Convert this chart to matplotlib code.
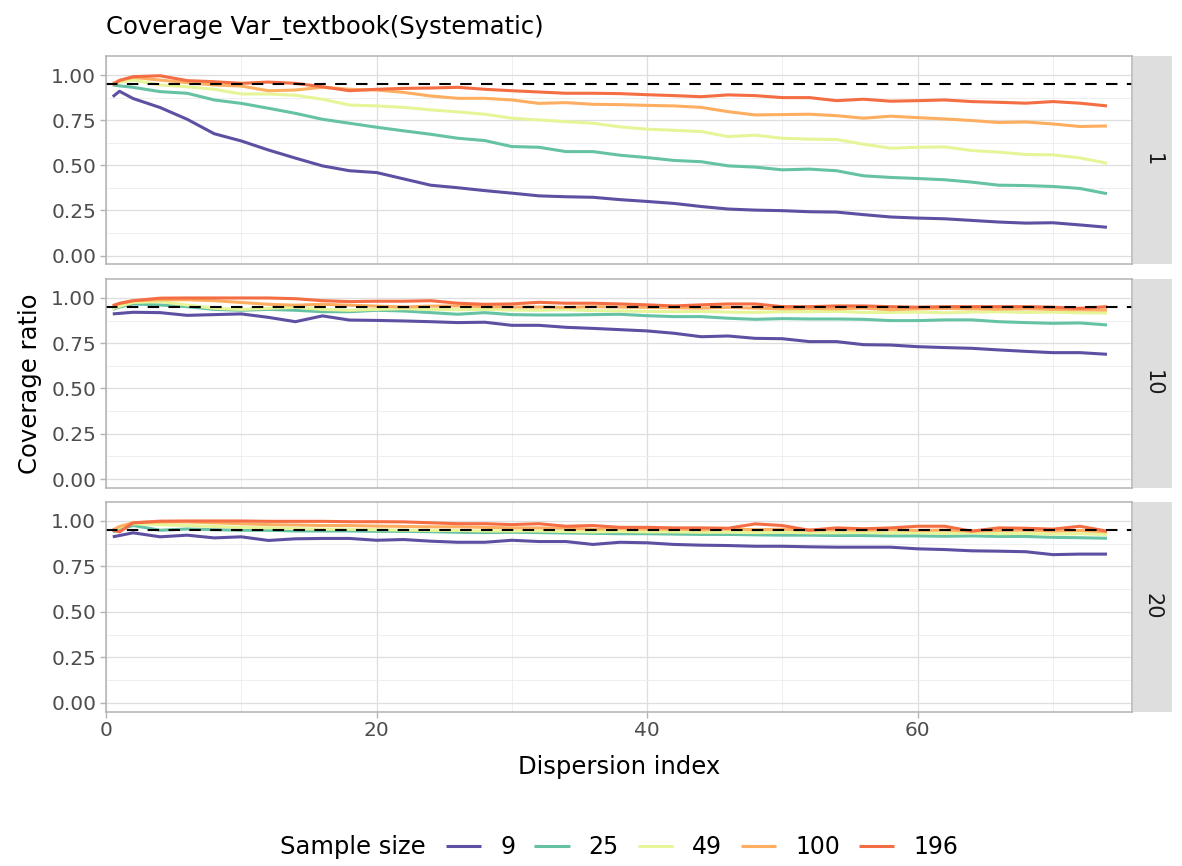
import matplotlib
matplotlib.use("Agg")
import matplotlib.pyplot as plt
from matplotlib.ticker import MultipleLocator

# dispersion index values (x) shared by all lines
dispersion = [0.5, 1] + list(range(2, 75, 2))

sample_sizes = ["9", "25", "49", "100", "196"]
colours = ["#5E4FA2", "#66C2A5", "#E6F598", "#FDAE61", "#F46D43"]
facets = ["1", "10", "20"]

# facet 1
cov_1_n9 = [0.88, 0.91, 0.87, 0.82, 0.755, 0.675, 0.635, 0.585, 0.54, 0.497, 0.47, 0.46, 0.425, 0.39, 0.376, 0.36, 0.346, 0.331, 0.326, 0.323,
            0.31, 0.30, 0.289, 0.272, 0.258, 0.252, 0.249, 0.243, 0.241, 0.227, 0.214, 0.208, 0.204, 0.195, 0.186, 0.18, 0.182, 0.17, 0.157]
cov_1_n25 = [0.945, 0.94, 0.932, 0.908, 0.899, 0.862, 0.843, 0.816, 0.788, 0.755, 0.733, 0.711, 0.691, 0.672, 0.650, 0.637, 0.604, 0.600, 0.576, 0.576,
             0.556, 0.543, 0.527, 0.52, 0.497, 0.490, 0.475, 0.479, 0.470, 0.442, 0.433, 0.427, 0.420, 0.407, 0.39, 0.388, 0.383, 0.372, 0.343]
cov_1_n49 = [0.948, 0.96, 0.972, 0.945, 0.935, 0.921, 0.895, 0.895, 0.888, 0.866, 0.834, 0.829, 0.821, 0.807, 0.796, 0.783, 0.761, 0.751, 0.742, 0.733,
             0.713, 0.700, 0.694, 0.687, 0.659, 0.667, 0.650, 0.645, 0.643, 0.617, 0.595, 0.600, 0.602, 0.582, 0.573, 0.560, 0.558, 0.541, 0.512]
cov_1_n100 = [0.954, 0.97, 0.987, 0.972, 0.958, 0.945, 0.939, 0.913, 0.917, 0.932, 0.921, 0.917, 0.904, 0.884, 0.871, 0.871, 0.862, 0.843, 0.847, 0.838,
              0.836, 0.832, 0.829, 0.821, 0.797, 0.779, 0.781, 0.783, 0.775, 0.761, 0.772, 0.764, 0.757, 0.748, 0.737, 0.740, 0.729, 0.715, 0.718]
cov_1_n196 = [0.945, 0.97, 0.991, 0.996, 0.969, 0.963, 0.954, 0.961, 0.954, 0.935, 0.913, 0.921, 0.926, 0.928, 0.932, 0.921, 0.913, 0.906, 0.899, 0.899,
              0.897, 0.891, 0.886, 0.880, 0.890, 0.886, 0.875, 0.875, 0.858, 0.866, 0.855, 0.858, 0.862, 0.853, 0.849, 0.844, 0.853, 0.844, 0.829]

# facet 10
cov_10_n9 = [0.912, 0.915, 0.921, 0.919, 0.904, 0.908, 0.912, 0.893, 0.869, 0.901, 0.878, 0.876, 0.873, 0.869, 0.864, 0.866, 0.849, 0.849, 0.838, 0.832,
             0.825, 0.818, 0.805, 0.786, 0.790, 0.777, 0.775, 0.759, 0.759, 0.742, 0.740, 0.731, 0.726, 0.722, 0.713, 0.705, 0.698, 0.698, 0.689]
cov_10_n25 = [0.937, 0.95, 0.967, 0.961, 0.952, 0.937, 0.932, 0.937, 0.932, 0.924, 0.924, 0.932, 0.928, 0.919, 0.910, 0.919, 0.908, 0.906, 0.906, 0.908,
              0.910, 0.902, 0.897, 0.897, 0.888, 0.882, 0.886, 0.884, 0.884, 0.882, 0.875, 0.875, 0.879, 0.879, 0.869, 0.864, 0.860, 0.862, 0.851]
cov_10_n49 = [0.94, 0.955, 0.975, 0.98, 0.961, 0.943, 0.937, 0.943, 0.948, 0.937, 0.932, 0.937, 0.941, 0.937, 0.935, 0.937, 0.933, 0.932, 0.935, 0.93,
              0.928, 0.926, 0.924, 0.926, 0.922, 0.92, 0.924, 0.924, 0.926, 0.92, 0.92, 0.922, 0.918, 0.922, 0.924, 0.92, 0.922, 0.918, 0.917]
cov_10_n100 = [0.955, 0.97, 0.985, 0.99, 0.99, 0.985, 0.975, 0.965, 0.96, 0.965, 0.96, 0.955, 0.95, 0.955, 0.956, 0.952, 0.95, 0.95, 0.948, 0.952,
               0.95, 0.948, 0.946, 0.944, 0.948, 0.944, 0.94, 0.942, 0.94, 0.944, 0.935, 0.94, 0.942, 0.94, 0.938, 0.94, 0.937, 0.935, 0.933]
cov_10_n196 = [0.958, 0.97, 0.985, 0.999, 1.0, 1.0, 1.0, 1.0, 0.996, 0.985, 0.98, 0.982, 0.982, 0.985, 0.971, 0.965, 0.967, 0.976, 0.971, 0.971,
               0.967, 0.962, 0.956, 0.962, 0.967, 0.967, 0.952, 0.952, 0.956, 0.956, 0.952, 0.949, 0.952, 0.952, 0.952, 0.952, 0.949, 0.943, 0.952]

# facet 20
cov_20_n9 = [0.913, 0.92, 0.935, 0.913, 0.922, 0.907, 0.913, 0.893, 0.902, 0.904, 0.904, 0.894, 0.898, 0.889, 0.883, 0.883, 0.894, 0.887, 0.887, 0.871,
             0.883, 0.880, 0.871, 0.867, 0.865, 0.861, 0.861, 0.858, 0.856, 0.856, 0.856, 0.847, 0.843, 0.836, 0.834, 0.831, 0.815, 0.818, 0.818]
cov_20_n25 = [0.94, 0.955, 0.975, 0.949, 0.956, 0.952, 0.949, 0.949, 0.945, 0.945, 0.945, 0.943, 0.943, 0.941, 0.938, 0.936, 0.938, 0.936, 0.934, 0.932,
              0.930, 0.930, 0.928, 0.926, 0.926, 0.924, 0.922, 0.922, 0.920, 0.920, 0.918, 0.918, 0.916, 0.918, 0.915, 0.915, 0.910, 0.908, 0.905]
cov_20_n49 = [0.945, 0.965, 0.985, 0.98, 0.975, 0.97, 0.965, 0.962, 0.958, 0.955, 0.955, 0.952, 0.95, 0.948, 0.948, 0.945, 0.945, 0.945, 0.942, 0.94,
              0.942, 0.94, 0.94, 0.938, 0.938, 0.936, 0.938, 0.935, 0.935, 0.936, 0.934, 0.935, 0.932, 0.935, 0.93, 0.932, 0.928, 0.93, 0.926]
cov_20_n100 = [0.95, 0.97, 0.99, 0.995, 0.995, 0.99, 0.985, 0.98, 0.978, 0.975, 0.975, 0.972, 0.97, 0.968, 0.968, 0.965, 0.962, 0.962, 0.96, 0.955,
               0.958, 0.955, 0.955, 0.952, 0.955, 0.952, 0.955, 0.95, 0.952, 0.95, 0.952, 0.948, 0.95, 0.945, 0.948, 0.95, 0.945, 0.948, 0.94]
cov_20_n196 = [0.95, 0.94, 0.99, 0.999, 1.0, 1.0, 1.0, 0.998, 0.998, 0.998, 0.996, 0.996, 0.995, 0.99, 0.985, 0.985, 0.98, 0.985, 0.971, 0.975,
               0.965, 0.965, 0.962, 0.962, 0.96, 0.984, 0.975, 0.949, 0.962, 0.957, 0.962, 0.971, 0.971, 0.944, 0.962, 0.96, 0.955, 0.971, 0.944]

panel_data = [
    [cov_1_n9, cov_1_n25, cov_1_n49, cov_1_n100, cov_1_n196],
    [cov_10_n9, cov_10_n25, cov_10_n49, cov_10_n100, cov_10_n196],
    [cov_20_n9, cov_20_n25, cov_20_n49, cov_20_n100, cov_20_n196],
]
nominal = 0.95

W, H = 1182, 866
fig = plt.figure(figsize=(W / 100, H / 100), dpi=100)

# panel boxes in pixels: (top, bottom)
panel_rows = [(55.7, 264.3), (278.6, 487.7), (501.5, 711.7)]
left_px, right_px = 106, 1132
strip_l, strip_r = 1133, 1172

grey_txt = "#4D4D4D"
border = "#B3B3B3"

axes = []
for i, (top, bot) in enumerate(panel_rows):
    ax = fig.add_axes([left_px / W, 1 - bot / H, (right_px - left_px) / W, (bot - top) / H])
    for ys, col, lab in zip(panel_data[i], colours, sample_sizes):
        ax.plot(dispersion, ys, color=col, lw=2.2, label=lab, solid_capstyle="butt")
    ax.axhline(nominal, color="black", lw=1.5, ls=(0, (5.5, 4.5)))
    ax.set_xlim(0, 75.85)
    ax.set_ylim(-0.048, 1.107)
    ax.yaxis.set_major_locator(MultipleLocator(0.25))
    ax.yaxis.set_minor_locator(MultipleLocator(0.125))
    ax.xaxis.set_major_locator(MultipleLocator(20))
    ax.xaxis.set_minor_locator(MultipleLocator(10))
    ax.grid(which="major", color="#DEDEDE", lw=0.9)
    ax.grid(which="minor", color="#EDEDED", lw=0.6)
    ax.set_axisbelow(True)
    for s in ax.spines.values():
        s.set_color(border)
        s.set_linewidth(1.1)
    ax.tick_params(which="major", color=border, length=4, width=1, labelsize=14.5, labelcolor=grey_txt, pad=3)
    ax.tick_params(which="minor", length=0)
    ax.set_yticks([0, 0.25, 0.5, 0.75, 1.0])
    ax.set_yticklabels(["0.00", "0.25", "0.50", "0.75", "1.00"])
    if i < 2:
        ax.tick_params(axis="x", which="major", length=0, labelbottom=False)

    # strip on the right
    sax = fig.add_axes([strip_l / W, 1 - bot / H, (strip_r - strip_l) / W, (bot - top) / H])
    sax.set_facecolor("#DEDEDE")
    sax.set_xticks([])
    sax.set_yticks([])
    for s in sax.spines.values():
        s.set_visible(False)
    sax.text(0.5, 0.5, facets[i], rotation=-90, ha="center", va="center",
             fontsize=15, color="#1A1A1A", transform=sax.transAxes)
    axes.append(ax)

fig.text(106 / W, 1 - 28 / H, "Coverage Var_textbook(Systematic)", fontsize=17.5, va="center", ha="left")
fig.text(30 / W, 1 - 384 / H, "Coverage ratio", fontsize=17.5, rotation=90, va="center", ha="center")
fig.text(619 / W, 1 - 767 / H, "Dispersion index", fontsize=17.5, va="center", ha="center")

fig.text(280 / W, 1 - 847 / H, "Sample size", fontsize=17.5, va="center", ha="left")
handles, labels = axes[0].get_legend_handles_labels()
fig.legend(handles, labels, ncol=5, loc="center left", bbox_to_anchor=(446 / W, 1 - 847 / H),
           frameon=False, fontsize=17, handlelength=1.5, handletextpad=0.8, columnspacing=0.8,
           borderpad=0, borderaxespad=0)

fig.savefig("out.png", dpi=100)
